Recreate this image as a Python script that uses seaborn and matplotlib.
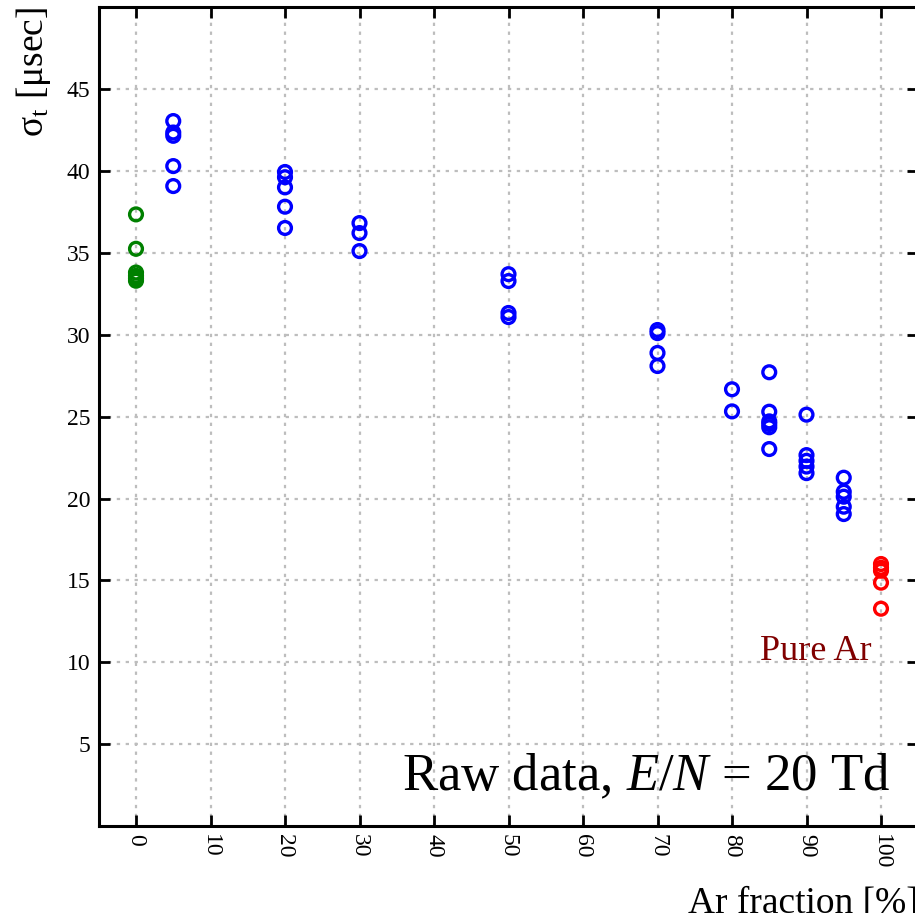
import numpy as np
import pandas as pd
import matplotlib
matplotlib.use("Agg")
import matplotlib.pyplot as plt
import seaborn as sns

# ---- data ----
ar_n2 = [0, 0, 0, 0, 0, 0]
sig_n2 = [37.35, 35.25, 33.8, 33.6, 33.45, 33.3]

ar_mix = [5, 5, 5, 5, 5,
          20, 20, 20, 20, 20,
          30, 30, 30,
          50, 50, 50, 50,
          70, 70, 70, 70,
          80, 80,
          85, 85, 85, 85, 85, 85,
          90, 90, 90, 90, 90,
          95, 95, 95, 95, 95]
sig_mix = [43.05, 42.35, 42.15, 40.3, 39.08,
           39.94, 39.62, 39.0, 37.82, 36.52,
           36.82, 36.21, 35.11,
           33.7, 33.28, 31.33, 31.08,
           30.29, 30.1, 28.89, 28.09,
           26.67, 25.32,
           27.71, 25.3, 24.71, 24.55, 24.35, 23.02,
           25.12, 22.65, 22.3, 21.95, 21.55,
           21.27, 20.41, 20.11, 19.5, 19.05]

ar_pure = [100, 100, 100, 100, 100]
sig_pure = [16.0, 15.77, 15.59, 14.86, 13.27]

x_ticks = [0, 10, 20, 30, 40, 50, 60, 70, 80, 90, 100]
y_ticks = [5, 10, 15, 20, 25, 30, 35, 40, 45]

df = pd.concat([
    pd.DataFrame({"x": ar_n2, "y": sig_n2, "g": "n2"}),
    pd.DataFrame({"x": ar_mix, "y": sig_mix, "g": "mix"}),
    pd.DataFrame({"x": ar_pure, "y": sig_pure, "g": "pure"}),
])
colors = {"n2": "#008000", "mix": "#0000ff", "pure": "#ff0000"}

sns.set_style("white", rc={"text.color": "black", "axes.labelcolor": "black",
                           "xtick.color": "black", "ytick.color": "black",
                           "axes.edgecolor": "black"})
plt.rcParams["font.family"] = ["Liberation Serif", "DejaVu Serif"]
plt.rcParams["mathtext.fontset"] = "custom"
plt.rcParams["mathtext.rm"] = "Liberation Serif"
plt.rcParams["mathtext.it"] = "Liberation Serif:italic"
plt.rcParams["mathtext.bf"] = "Liberation Serif:bold"

fig = plt.figure(figsize=(9.15, 9.13), dpi=100)
ax = fig.add_axes([98.75 / 915, 87 / 913, 819.5 / 915, 818.75 / 913])

for g, sub in df.groupby("g", sort=False):
    c = colors[g]
    sns.scatterplot(data=sub, x="x", y="y", ax=ax, marker="o", s=85,
                    color=c, facecolor="none", edgecolor=c, linewidth=2.4,
                    legend=False, zorder=3)

ax.set_xlim(-5, 105)
ax.set_ylim(0, 50)
ax.set_xticks(x_ticks)
ax.set_yticks(y_ticks)
ax.set_xticklabels([str(t) for t in x_ticks], rotation=-90, fontsize=17)
ax.set_yticklabels([str(t) for t in y_ticks], fontsize=17)
ax.tick_params(direction="in", length=8, width=2, top=True, right=True,
               bottom=True, left=True, pad=6, colors="black")
ax.grid(True, linestyle=(0, (1.5, 2.5)), color="#bdbdbd", linewidth=1.6)
for sp in ax.spines.values():
    sp.set_linewidth(2.2)
    sp.set_color("black")

ax.set_xlabel("Ar fraction [%]", fontsize=27, loc="right", labelpad=12,
              color="black")
ax.set_ylabel("σ$_{\\mathrm{t}}$ [μsec]", fontsize=27, loc="top", labelpad=10,
              color="black")

ax.text(0.966, 0.044, "Raw data, $E/N$ = 20 Td", transform=ax.transAxes,
        ha="right", va="baseline", fontsize=38, color="black")
ax.text(98.8, 10.14, "Pure Ar", ha="right", va="baseline", fontsize=26,
        color="#800000")

fig.savefig("out.png", dpi=100)
